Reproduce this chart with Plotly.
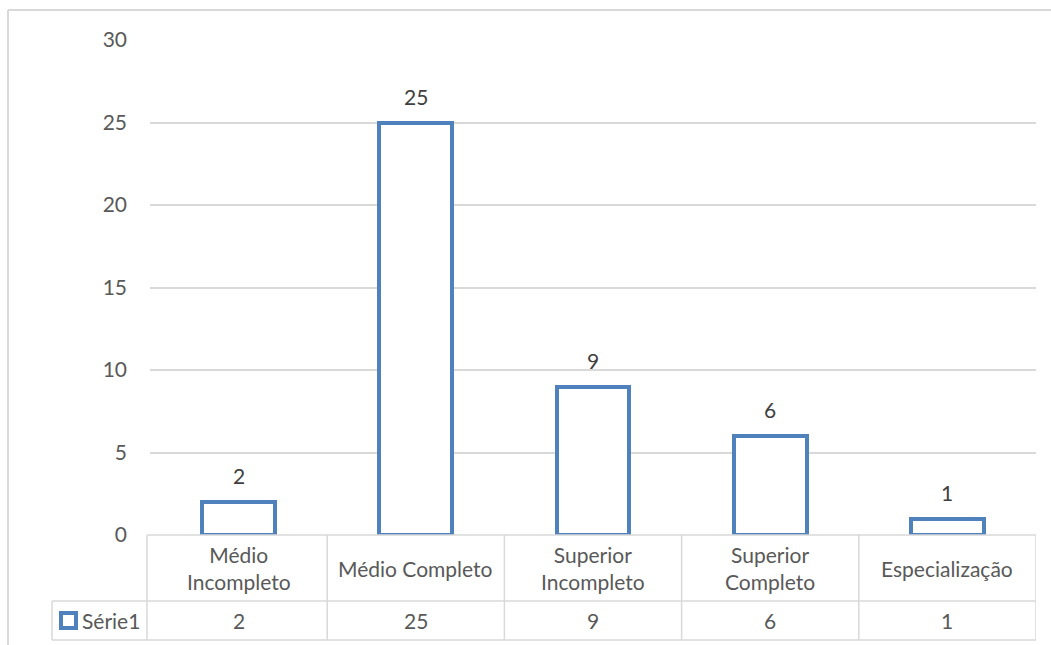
import plotly.graph_objects as go

categories = ["Médio<br>Incompleto", "Médio Completo", "Superior<br>Incompleto", "Superior<br>Completo", "Especialização"]
values = [2, 25, 9, 6, 1]
series_name = "Série1"
y_ticks = [0, 5, 10, 15, 20, 25, 30]

W, H = 1051, 645
BLUE = "#4F81BD"
GRID = "#D9D9D9"
TXT = "#595959"
FONT = "Lato, 'Open Sans', sans-serif"
FS = 21

def px(x):
    return x / W

def py(y):
    return 1 - y / H

x_left, x_right = 150, 1036
y_top, y_bottom = 40, 535
row1_bottom, row2_bottom = 601, 640
legend_left = 52

xs = list(range(len(categories)))

fig = go.Figure()
fig.add_trace(go.Bar(
    x=xs, y=values, width=0.41,
    marker=dict(color="white", line=dict(color=BLUE, width=4)),
    showlegend=False, hoverinfo="skip",
))

annotations = []
for i, v in zip(xs, values):
    annotations.append(dict(x=i, y=v, xref="x", yref="y", text=str(v), showarrow=False,
                            yanchor="bottom", yshift=12,
                            font=dict(family=FONT, size=FS, color="#404040")))
    annotations.append(dict(x=i, y=py((y_bottom + row1_bottom) / 2), xref="x", yref="paper",
                            text=categories[i], showarrow=False, yanchor="middle",
                            font=dict(family=FONT, size=FS, color=TXT)))
    annotations.append(dict(x=i, y=py((row1_bottom + row2_bottom) / 2), xref="x", yref="paper",
                            text=str(v), showarrow=False, yanchor="middle",
                            font=dict(family=FONT, size=FS, color=TXT)))

annotations.append(dict(x=px(80), y=py((row1_bottom + row2_bottom) / 2), xref="paper", yref="paper",
                        text=series_name, showarrow=False, xanchor="left", yanchor="middle",
                        font=dict(family=FONT, size=FS, color=TXT)))

shapes = []
line = dict(color=GRID, width=1.5)
shapes.append(dict(type="line", xref="paper", yref="paper", x0=px(8), x1=px(8), y0=0, y1=py(10), line=dict(color=GRID, width=2)))
shapes.append(dict(type="line", xref="paper", yref="paper", x0=px(8), x1=1, y0=py(10), y1=py(10), line=dict(color=GRID, width=2)))
shapes.append(dict(type="line", xref="paper", yref="paper", x0=px(x_left - 3), x1=px(x_right), y0=py(y_bottom), y1=py(y_bottom), line=line))
for yy in (row1_bottom, row2_bottom):
    shapes.append(dict(type="line", xref="paper", yref="paper", x0=px(legend_left), x1=px(x_right), y0=py(yy), y1=py(yy), line=line))
shapes.append(dict(type="line", xref="paper", yref="paper", x0=px(legend_left), x1=px(legend_left), y0=py(row1_bottom), y1=py(row2_bottom), line=line))
shapes.append(dict(type="line", xref="paper", yref="paper", x0=px(x_left - 3), x1=px(x_left - 3), y0=py(y_bottom), y1=py(row2_bottom), line=line))
for k in range(1, len(categories) + 1):
    shapes.append(dict(type="line", xref="x", yref="paper", x0=k - 0.5, x1=k - 0.5, y0=py(y_bottom), y1=py(row2_bottom), line=line))
ly = (row1_bottom + row2_bottom) / 2
shapes.append(dict(type="rect", xref="paper", yref="paper", x0=px(61), x1=px(76), y0=py(ly - 7.5), y1=py(ly + 7.5),
                   fillcolor="white", line=dict(color=BLUE, width=4)))

fig.update_layout(
    width=W, height=H, autosize=False,
    margin=dict(l=0, r=0, t=0, b=0, pad=0),
    paper_bgcolor="white", plot_bgcolor="white",
    bargap=0,
    xaxis=dict(domain=[px(x_left), px(x_right)], range=[-0.5, len(categories) - 0.5],
               showticklabels=False, showgrid=False, zeroline=False, showline=False, fixedrange=True,
               automargin=False),
    yaxis=dict(domain=[py(y_bottom), py(y_top)], range=[0, 30], tickvals=y_ticks,
               showgrid=True, gridcolor=GRID, gridwidth=1.5, zeroline=False, showline=False,
               ticks="", ticklabelstandoff=22, automargin=False,
               tickfont=dict(family=FONT, size=FS, color=TXT)),
    annotations=annotations,
    shapes=shapes,
)

fig.write_html("out.html")
